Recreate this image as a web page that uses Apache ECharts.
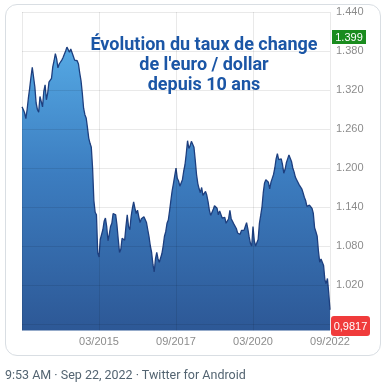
<!DOCTYPE html>
<html><head><meta charset="utf-8">
<script src="https://cdn.jsdelivr.net/npm/echarts@6/dist/echarts.min.js"></script>
<style>
html,body{margin:0;padding:0;background:#fff;width:391px;height:389px;overflow:hidden;}
#card{position:absolute;left:5px;top:4px;width:374px;height:350px;border:1px solid #d9dee3;border-radius:12px;background:#fff;}
#chart{position:absolute;left:0;top:0;width:391px;height:389px;}
#foot{position:absolute;left:5px;top:367px;font-family:Roboto,"Liberation Sans",sans-serif;font-size:12.5px;color:#536471;white-space:nowrap;}
</style></head>
<body>
<div id="card"></div>
<div id="chart"></div>
<div id="foot">9:53 AM · Sep 22, 2022 · Twitter for Android</div>
<script>
// Half-monthly EUR/USD readings, Sep 2012 -> Sep 2022
const startYear = 2012, startMonth = 9;
const rates = [
1.294,1.290,1.285,1.276,1.290,1.308,1.323,1.340,1.355,1.352,
1.325,1.300,1.290,1.286,1.310,1.312,1.294,1.318,1.328,1.305,
1.315,1.332,1.330,1.338,1.356,1.365,1.376,1.368,1.354,1.360,
1.362,1.366,1.370,1.373,1.380,1.386,1.388,1.378,1.383,1.382,
1.372,1.366,1.363,1.365,1.360,1.346,1.334,1.315,1.292,1.282,
1.277,1.262,1.246,1.238,1.232,1.200,1.150,1.132,1.128,1.070,
1.063,1.090,1.088,1.105,1.118,1.123,1.110,1.088,1.098,1.110,
1.115,1.130,1.128,1.128,1.112,1.090,1.070,1.075,1.092,1.094,
1.089,1.110,1.128,1.110,1.105,1.125,1.138,1.148,1.138,1.130,
1.135,1.125,1.116,1.122,1.124,1.125,1.122,1.116,1.105,1.094,
1.080,1.070,1.052,1.040,1.060,1.070,1.060,1.055,1.056,1.068,
1.080,1.095,1.102,1.115,1.120,1.134,1.150,1.165,1.176,1.188,
1.200,1.184,1.180,1.172,1.172,1.182,1.195,1.205,1.222,1.242,
1.230,1.234,1.241,1.243,1.232,1.212,1.190,1.176,1.168,1.162,
1.170,1.158,1.156,1.164,1.158,1.148,1.135,1.127,1.128,1.136,
1.142,1.144,1.138,1.128,1.134,1.134,1.123,1.125,1.124,1.115,
1.112,1.122,1.135,1.122,1.118,1.114,1.112,1.107,1.100,1.098,
1.098,1.104,1.103,1.104,1.110,1.116,1.106,1.094,1.084,1.080,
1.110,1.088,1.080,1.082,1.090,1.115,1.127,1.140,1.162,1.177,
1.182,1.182,1.178,1.168,1.178,1.184,1.190,1.200,1.214,1.222,
1.213,1.216,1.214,1.205,1.192,1.198,1.208,1.214,1.220,1.222,
1.210,1.200,1.194,1.186,1.182,1.180,1.174,1.172,1.168,1.162,
1.155,1.150,1.141,1.142,1.143,1.142,1.138,1.130,1.108,1.102,
1.095,1.072,1.055,1.060,1.058,1.050,1.028,1.022,1.030,1.008,
0.982
];
const shownTicks = ['03/2015','09/2017','03/2020','09/2022'];
const yTicksMin = 0.96, yTicksMax = 1.44, yStep = 0.06;
const highLabel = '1.399';
const lastLabel = '0,9817';
const titleLines = ['Évolution du taux de change', "de l'euro / dollar", 'depuis 10 ans'];

const dates = rates.map((_, i) => {
  const m = startMonth - 1 + Math.floor(i / 2);
  const y = startYear + Math.floor(m / 12);
  const mm = (m % 12) + 1;
  return (mm < 10 ? '0' + mm : '' + mm) + '/' + y;
});

const chart = echarts.init(document.getElementById('chart'), null, {renderer: 'canvas'});
const gridCol = 'rgba(0,0,0,0.085)';
chart.setOption({
  backgroundColor: 'transparent',
  animation: false,
  grid: [
    {left: 22, width: 308, top: 12, height: 318.5},
    {left: 22, width: 308, top: 12, height: 312}
  ],
  xAxis: [
    {
      type: 'category', gridIndex: 0, data: dates, boundaryGap: false, z: 3,
      axisLine: {show: false}, axisTick: {show: false},
      axisLabel: {
        interval: (i) => i > 0 && i % 60 === 0 && shownTicks.includes(dates[i]),
        color: '#8c8c8c', fontSize: 11, margin: 6, fontFamily: 'Liberation Sans'
      },
      splitLine: {show: true, interval: (i) => i % 60 === 0, lineStyle: {color: gridCol, width: 1}}
    },
    {type: 'value', gridIndex: 1, show: false}
  ],
  yAxis: [
    {type: 'value', gridIndex: 0, min: 0.95, max: 1.44, show: false, splitLine: {show: false}},
    {
      type: 'value', gridIndex: 1, position: 'right', min: yTicksMin, max: yTicksMax, interval: yStep, z: 3,
      axisLine: {show: false}, axisTick: {show: false},
      axisLabel: {
        formatter: (v) => v < 1 ? '' : v.toFixed(3),
        color: '#8c8c8c', fontSize: 11, margin: 6, fontFamily: 'Liberation Sans'
      },
      splitLine: {show: true, lineStyle: {color: gridCol, width: 1}}
    }
  ],
  series: [{
    type: 'line', xAxisIndex: 0, yAxisIndex: 0, data: rates, showSymbol: false, z: 2,
    lineStyle: {color: '#1d3f7f', width: 1.3},
    areaStyle: {
      origin: 'start', opacity: 1,
      color: new echarts.graphic.LinearGradient(0, 0, 0, 1, [
        {offset: 0, color: '#55a9e4'},
        {offset: 0.45, color: '#3c7dc0'},
        {offset: 1, color: '#2d5896'}
      ])
    }
  }],
  graphic: [
    {
      type: 'text', z: 10, x: 204, y: 35,
      style: {
        x: 0, y: 0,
        text: titleLines.join('\n'),
        fill: '#1b56a6', font: 'bold 18px "Liberation Sans Narrow", Roboto, sans-serif',
        lineHeight: 20, align: 'center'
      }
    },
    {
      type: 'group', z: 10, x: 332, y: 30,
      children: [
        {type: 'rect', shape: {x: 0, y: 0, width: 34, height: 14}, style: {fill: '#1a8c1e'}},
        {type: 'text', style: {x: 17, y: 7.5, text: highLabel, fill: '#fff', font: '11px "Liberation Sans", sans-serif', align: 'center', verticalAlign: 'middle'}}
      ]
    },
    {
      type: 'group', z: 10, x: 331, y: 316,
      children: [
        {type: 'rect', shape: {x: 0, y: 0, width: 39, height: 20, r: 3}, style: {fill: '#f03b3b'}},
        {type: 'text', style: {x: 19.5, y: 10.5, text: lastLabel, fill: '#fff', font: '11px "Liberation Sans", sans-serif', align: 'center', verticalAlign: 'middle'}}
      ]
    }
  ]
});
</script>
</body></html>
